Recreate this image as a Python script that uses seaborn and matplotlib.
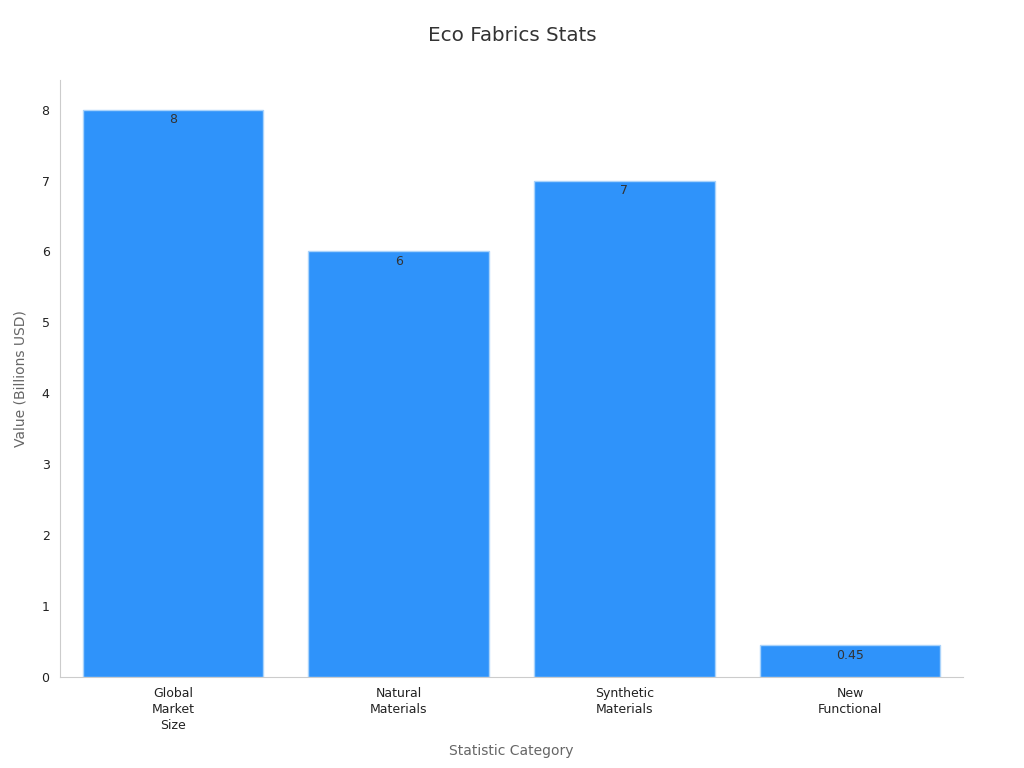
import matplotlib
matplotlib.use("Agg")
import matplotlib.pyplot as plt
import seaborn as sns
import pandas as pd

categories = ["Global\nMarket\nSize", "Natural\nMaterials", "Synthetic\nMaterials", "New\nFunctional"]
values = [8, 6, 7, 0.45]
value_labels = ["8", "6", "7", "0.45"]

sns.set_style("white")
plt.rcParams["font.family"] = ["DejaVu Sans"]

df = pd.DataFrame({"category": categories, "value": values})

fig = plt.figure(figsize=(10.24, 7.68), dpi=100)
ax = fig.add_axes([0.0586, 0.1185, 0.8818, 0.7775])

sns.barplot(data=df, x="category", y="value", color="#2f93fa", saturation=1,
            width=0.8, edgecolor="#a9d3fb", linewidth=1, ax=ax)

# value labels just inside the top of each bar
for bar, lab in zip(ax.patches, value_labels):
    ax.text(bar.get_x() + bar.get_width() / 2, bar.get_height() - 0.05, lab,
            ha="center", va="top", fontsize=9, color="#333333")

ax.set_xlim(-0.5, 3.5)
ax.set_ylim(0, 8.42)
ax.set_yticks(range(0, 9))
ax.tick_params(axis="both", labelsize=9, colors="#222222", length=4, width=1)
ax.tick_params(axis="both", color="#888888")
for t in ax.get_xticklabels():
    t.set_linespacing(1.3)

for side in ["top", "right"]:
    ax.spines[side].set_visible(False)
for side in ["left", "bottom"]:
    ax.spines[side].set_color("#cccccc")

ax.set_xlabel("Statistic Category", fontsize=10, color="#666666", labelpad=8)
ax.set_ylabel("Value (Billions USD)", fontsize=10, color="#666666", labelpad=10)
fig.suptitle("Eco Fabrics Stats", fontsize=14.3, color="#333333", y=0.966)

fig.savefig("out.png", dpi=100)
plt.close(fig)
